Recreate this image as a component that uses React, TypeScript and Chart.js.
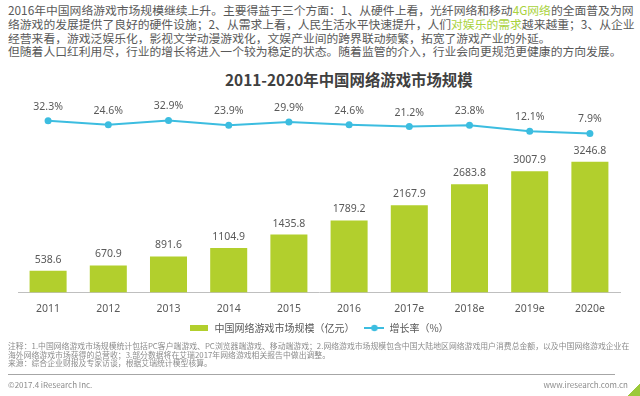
import React, { useEffect, useRef } from "react";
import { Chart, registerables } from "chart.js";

Chart.register(...registerables);

// ---------- data ----------
const categories = ["2011", "2012", "2013", "2014", "2015", "2016", "2017e", "2018e", "2019e", "2020e"];
const marketSize = [538.6, 670.9, 891.6, 1104.9, 1435.8, 1789.2, 2167.9, 2683.8, 3007.9, 3246.8];
const growthRate = [32.3, 24.6, 32.9, 23.9, 29.9, 24.6, 21.2, 23.8, 12.1, 7.9];
const seriesNames = ["中国网络游戏市场规模（亿元）\u3000", "增长率（%）"];
const chartTitle = "2011-2020年中国网络游戏市场规模";

const paragraphLines: { t: string; g?: boolean }[][] = [
  [
    { t: "2016年中国网络游戏市场规模继续上升。主要得益于三个方面：1、从硬件上看，光纤网络和移动" },
    { t: "4G网络", g: true },
    { t: "的全面普及为网" },
  ],
  [
    { t: "络游戏的发展提供了良好的硬件设施；2、从需求上看，人民生活水平快速提升，人们" },
    { t: "对娱乐的需求", g: true },
    { t: "越来越重；3、从企业" },
  ],
  [{ t: "经营来看，游戏泛娱乐化，影视文学动漫游戏化，文娱产业间的跨界联动频繁，拓宽了游戏产业的外延。" }],
  [{ t: "但随着人口红利用尽，行业的增长将进入一个较为稳定的状态。随着监管的介入，行业会向更规范更健康的方向发展。" }],
];

const noteLines = [
  "注释：1.中国网络游戏市场规模统计包括PC客户端游戏、PC浏览器端游戏、移动端游戏；2.网络游戏市场规模包含中国大陆地区网络游戏用户消费总金额，以及中国网络游戏企业在",
  "海外网络游戏市场获得的总营收；3.部分数据将在艾瑞2017年网络游戏相关报告中做出调整。",
  "来源：综合企业财报及专家访谈，根据艾瑞统计模型核算。",
];
const footerLeft = "©2017.4 iResearch Inc.";
const footerRight = "www.iresearch.com.cn";

// ---------- styles ----------
const BAR_COLOR = "#b2cf2d";
const LINE_COLOR = "#3cbde0";
const TEXT_COLOR = "#595959";
const HIGHLIGHT = "#a9d23c";
const FONT = "'Noto Sans', 'Noto Sans CJK SC', sans-serif";
const CJK_FONT = "'Noto Sans CJK SC', 'Noto Sans', sans-serif";

function makeBarIcon(): HTMLCanvasElement {
  const c = document.createElement("canvas");
  c.width = 18;
  c.height = 6;
  const ctx = c.getContext("2d")!;
  ctx.fillStyle = BAR_COLOR;
  ctx.fillRect(0, 0, 18, 6);
  return c;
}

function makeLineIcon(): HTMLCanvasElement {
  const c = document.createElement("canvas");
  c.width = 20;
  c.height = 8;
  const ctx = c.getContext("2d")!;
  ctx.strokeStyle = LINE_COLOR;
  ctx.lineWidth = 2;
  ctx.beginPath();
  ctx.moveTo(0, 4);
  ctx.lineTo(20, 4);
  ctx.stroke();
  ctx.fillStyle = LINE_COLOR;
  ctx.beginPath();
  ctx.arc(10, 4, 3.2, 0, Math.PI * 2);
  ctx.fill();
  return c;
}

const valueLabels = {
  id: "valueLabels",
  afterDatasetsDraw(chart: any) {
    const ctx = chart.ctx;
    ctx.save();
    ctx.font = `10.5px ${FONT}`;
    ctx.fillStyle = TEXT_COLOR;
    ctx.textAlign = "center";
    ctx.textBaseline = "middle";
    const barMeta = chart.getDatasetMeta(0);
    barMeta.data.forEach((el: any, i: number) => {
      const v = chart.data.datasets[0].data[i] as number;
      ctx.fillText(v.toFixed(1), el.x, el.y - 11);
    });
    const lineMeta = chart.getDatasetMeta(1);
    lineMeta.data.forEach((el: any, i: number) => {
      const v = chart.data.datasets[1].data[i] as number;
      ctx.fillText(v.toFixed(1) + "%", el.x, el.y - 14);
    });
    ctx.restore();
  },
};

// nudges the legend block up a little after layout
const legendNudge = {
  id: "legendNudge",
  afterLayout(chart: any) {
    const lg = chart.legend;
    if (lg) {
      lg.top -= 7;
      lg.bottom -= 7;
    }
  },
};

function GameChart() {
  const ref = useRef<HTMLCanvasElement | null>(null);
  useEffect(() => {
    if (!ref.current) return;
    const barIcon = makeBarIcon();
    const lineIcon = makeLineIcon();
    const chart = new Chart(ref.current, {
      type: "bar",
      data: {
        labels: categories,
        datasets: [
          {
            type: "bar",
            label: seriesNames[0],
            data: marketSize,
            backgroundColor: BAR_COLOR,
            yAxisID: "y",
            categoryPercentage: 1,
            barPercentage: 0.615,
            order: 2,
          } as any,
          {
            type: "line",
            label: seriesNames[1],
            data: growthRate,
            borderColor: LINE_COLOR,
            backgroundColor: LINE_COLOR,
            borderWidth: 2,
            pointRadius: 3.5,
            pointBackgroundColor: LINE_COLOR,
            pointBorderWidth: 0,
            tension: 0,
            yAxisID: "y1",
            order: 1,
          } as any,
        ],
      },
      options: {
        animation: false,
        responsive: false,
        maintainAspectRatio: false,
        layout: { padding: { left: 18, right: 20, top: 10, bottom: 0 } },
        scales: {
          x: {
            grid: { display: false, drawTicks: false },
            border: { display: true, color: "#bfbfbf", width: 1 },
            ticks: { color: TEXT_COLOR, font: { size: 10.5, family: FONT }, padding: 10 },
          },
          y: { display: false, min: 0, max: 4780 },
          y1: { display: false, min: -298.7, max: 72.4 },
        },
        plugins: {
          title: { display: false },
          tooltip: { enabled: false },
          legend: {
            position: "bottom",
            labels: {
              usePointStyle: true,
              pointStyleWidth: 20,
              boxHeight: 8,
              padding: 5,
              color: TEXT_COLOR,
              font: { size: 10, family: CJK_FONT },
              generateLabels: (c: any) => {
                const items = (Chart.defaults.plugins.legend.labels as any).generateLabels(c);
                items.sort((a: any, b: any) => a.datasetIndex - b.datasetIndex);
                items.forEach((it: any) => {
                  it.pointStyle = it.datasetIndex === 0 ? barIcon : lineIcon;
                  it.fontColor = TEXT_COLOR;
                });
                return items;
              },
            },
          },
        },
      } as any,
      plugins: [valueLabels, legendNudge],
    });
    return () => chart.destroy();
  }, []);
  return (
    <canvas
      ref={ref}
      width={640}
      height={260}
      style={{ position: "absolute", left: 0, top: 90, width: 640, height: 260 }}
    />
  );
}

export default function App() {
  const lineCenters = [10, 24, 37.5, 51];
  const noteCenters = [346, 354.5, 363];
  return (
    <div
      style={{
        position: "absolute",
        left: 0,
        top: 0,
        width: 640,
        height: 396,
        background: "#ffffff",
        overflow: "hidden",
        fontFamily: CJK_FONT,
      }}
    >
      {paragraphLines.map((parts, i) => (
        <div
          key={i}
          style={{
            position: "absolute",
            left: 8,
            top: lineCenters[i] - 7,
            height: 14,
            lineHeight: "14px",
            fontSize: 11.8,
            color: TEXT_COLOR,
            whiteSpace: "nowrap",
          }}
        >
          {parts.map((p, j) => (
            <span key={j} style={p.g ? { color: HIGHLIGHT } : undefined}>
              {p.t}
            </span>
          ))}
        </div>
      ))}
      <div
        style={{
          position: "absolute",
          left: 225,
          top: 79 - 10,
          height: 20,
          lineHeight: "20px",
          fontSize: 15.4,
          fontWeight: "bold",
          color: "#404040",
          whiteSpace: "nowrap",
        }}
      >
        {chartTitle}
      </div>
      <GameChart />
      {noteLines.map((t, i) => (
        <div
          key={i}
          style={{
            position: "absolute",
            left: 8,
            top: noteCenters[i] - 5,
            height: 10,
            lineHeight: "10px",
            fontSize: 7.85,
            color: "#8c8c8c",
            whiteSpace: "nowrap",
          }}
        >
          {t}
        </div>
      ))}
      <div style={{ position: "absolute", left: 8, top: 374, width: 607, height: 1, background: "#a6a6a6" }} />
      <div
        style={{
          position: "absolute",
          left: 8,
          top: 380,
          height: 10,
          lineHeight: "10px",
          fontSize: 8,
          color: "#8c8c8c",
          whiteSpace: "nowrap",
        }}
      >
        {footerLeft}
      </div>
      <div
        style={{
          position: "absolute",
          right: 12,
          top: 380,
          height: 10,
          lineHeight: "10px",
          fontSize: 8,
          color: "#8c8c8c",
          whiteSpace: "nowrap",
        }}
      >
        {footerRight}
      </div>
      <div
        style={{
          position: "absolute",
          left: 627,
          top: 382,
          width: 13,
          height: 14,
          background: "linear-gradient(135deg, transparent 55%, #9cc93a 55%)",
        }}
      />
    </div>
  );
}
